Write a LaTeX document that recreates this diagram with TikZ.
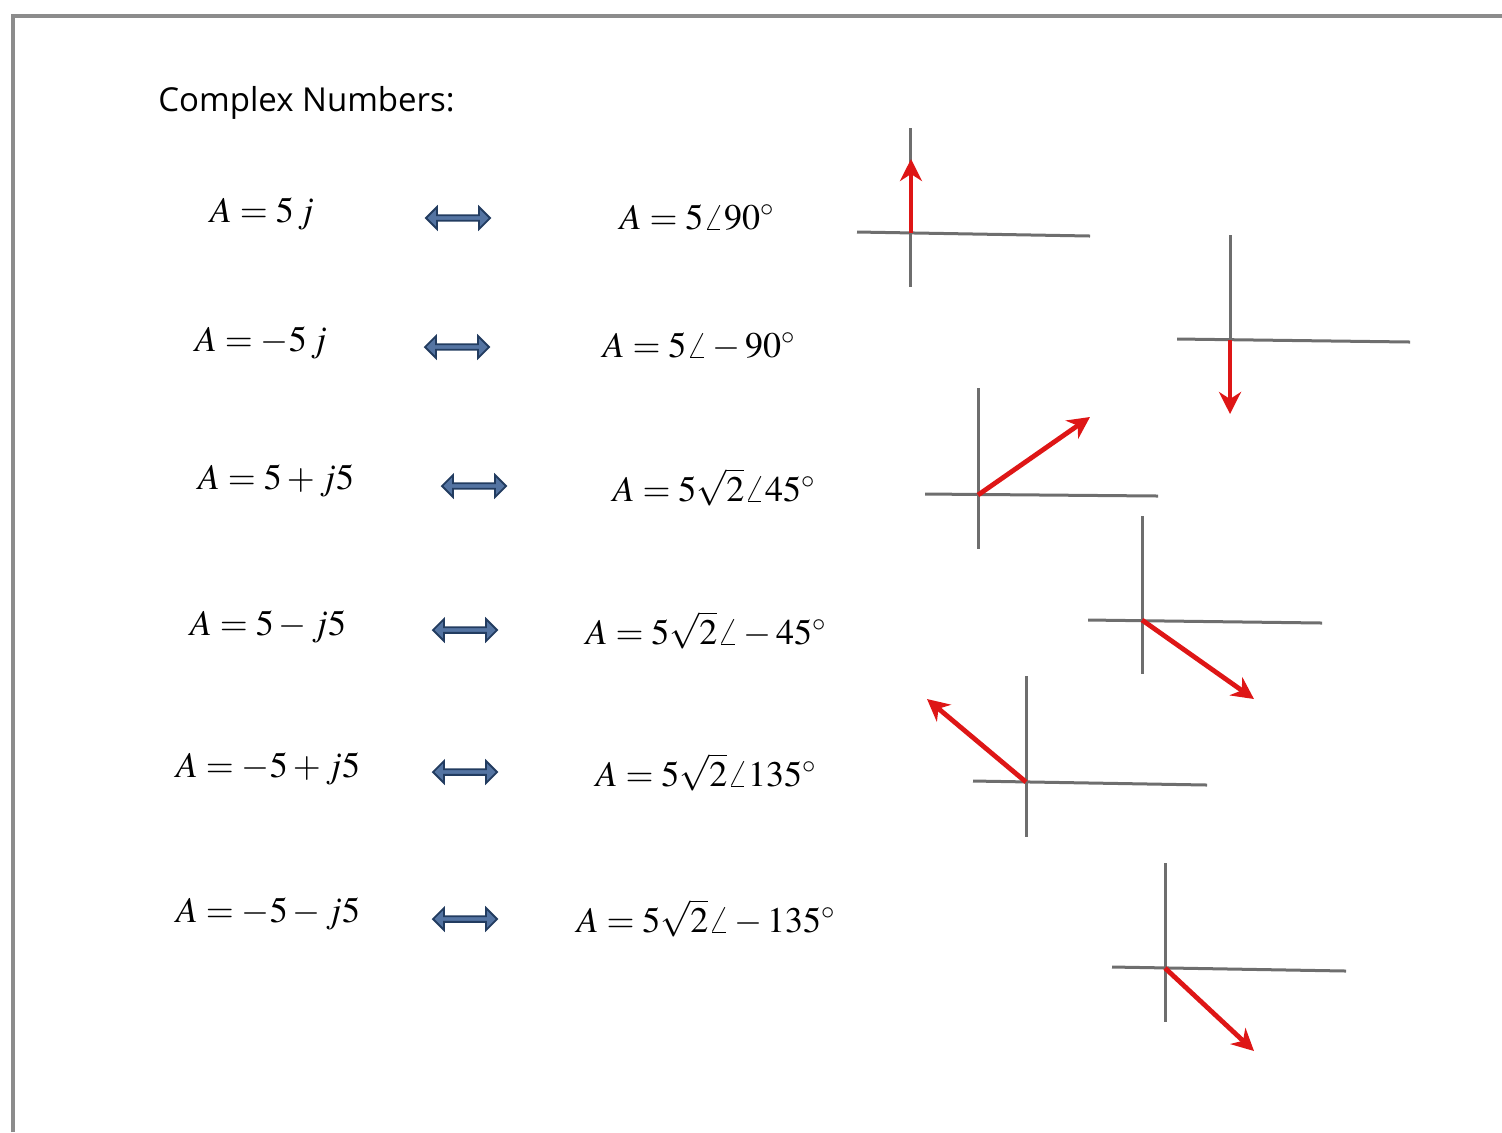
\documentclass[tikz,border=0pt]{standalone}
\usepackage{mathptmx}
\usepackage[no-math]{fontspec}
\setmainfont{Liberation Serif}
\newfontfamily\uifont{Open Sans}
\usetikzlibrary{shapes.arrows,arrows.meta}
\definecolor{framegray}{RGB}{140,140,140}
\definecolor{axisgray}{RGB}{110,110,110}
\definecolor{phasorred}{RGB}{222,22,22}
\definecolor{dafill}{RGB}{84,116,162}
\definecolor{dadraw}{RGB}{34,60,96}
\newcommand\tightmath[1]{$\medmuskip=2.5mu\thickmuskip=4mu #1$}
\begin{document}
\begin{tikzpicture}[x=0.5pt,y=-0.5pt,
  frame/.style={draw=framegray,line width=1.6pt},
  title/.style={font=\uifont\fontsize{16.5}{20}\selectfont,anchor=west,inner sep=0pt},
  formula/.style={font=\fontsize{18}{20}\selectfont,inner sep=0pt},
  dblarrow/.style={shape=double arrow,draw=dadraw,fill=dafill,line width=0.9pt,
    minimum height=32pt,minimum width=11pt,double arrow head extend=1.3pt,inner sep=0pt},
  axis/.style={draw=axisgray,line width=1.5pt},
  phasor/.style={draw=phasorred,line width=2.4pt,-{Stealth[length=11pt,width=11pt,inset=3.5pt]}}]
\useasboundingbox (0,0) rectangle (1502,1132);
% frame
\coordinate (fb) at (13,1132);
\coordinate (fc) at (13,16);
\coordinate (fr) at (1502,16);
\draw[frame] (fb) -- (fc) -- (fr);
% title
\node[title] (title) at (158,103) {Complex Numbers:};
% left formulas
\node[formula] (l1) at (262,214) {\tightmath{A=5\,j}};
\node[formula] (l2) at (261,343) {\tightmath{A=-5\,j}};
\node[formula] (l3) at (276,481) {\tightmath{A=5+j5}};
\node[formula] (l4) at (268,627) {\tightmath{A=5-j5}};
\node[formula] (l5) at (268,769) {\tightmath{A=-5+j5}};
\node[formula] (l6) at (268,914) {\tightmath{A=-5-j5}};
% double arrows
\node[dblarrow] (d1) at (458,218) {};
\node[dblarrow] (d2) at (457,347) {};
\node[dblarrow] (d3) at (474,486) {};
\node[dblarrow] (d4) at (465,630) {};
\node[dblarrow] (d5) at (465,772) {};
\node[dblarrow] (d6) at (465,919) {};
% right formulas
\node[formula] (r1) at (697,218) {$A=5\angle 90^\circ$};
\node[formula] (r2) at (699,347) {$A=5\angle-90^\circ$};
\node[formula] (r3) at (714,487) {$A=5\sqrt{2}\angle 45^\circ$};
\node[formula] (r4) at (706,630) {$A=5\sqrt{2}\angle-45^\circ$};
\node[formula] (r5) at (706,772) {$A=5\sqrt{2}\angle 135^\circ$};
\node[formula] (r6) at (706,918) {$A=5\sqrt{2}\angle-135^\circ$};
% phasor 1
\coordinate (h1a) at (857,232); \coordinate (h1b) at (1090,236);
\coordinate (v1a) at (910,128); \coordinate (v1b) at (910,287);
\coordinate (o1) at (911,233); \coordinate (t1) at (911,159);
\draw[axis] (h1a) -- (h1b); \draw[axis] (v1a) -- (v1b);
\draw[phasor] (o1) -- (t1);
% phasor 2
\coordinate (h2a) at (1177,339); \coordinate (h2b) at (1410,342);
\coordinate (v2a) at (1230,235); \coordinate (v2b) at (1230,341);
\coordinate (o2) at (1230,340); \coordinate (t2) at (1230,414);
\draw[axis] (h2a) -- (h2b); \draw[axis] (v2a) -- (v2b);
\draw[phasor] (o2) -- (t2);
% phasor 3
\coordinate (h3a) at (925,494); \coordinate (h3b) at (1158,496);
\coordinate (v3a) at (978,388); \coordinate (v3b) at (978,549);
\coordinate (o3) at (978,495); \coordinate (t3) at (1090,417);
\draw[axis] (h3a) -- (h3b); \draw[axis] (v3a) -- (v3b);
\draw[phasor] (o3) -- (t3);
% phasor 4
\coordinate (h4a) at (1088,620); \coordinate (h4b) at (1322,623);
\coordinate (v4a) at (1142,516); \coordinate (v4b) at (1142,674);
\coordinate (o4) at (1142,620); \coordinate (t4) at (1254,699);
\draw[axis] (h4a) -- (h4b); \draw[axis] (v4a) -- (v4b);
\draw[phasor] (o4) -- (t4);
% phasor 5
\coordinate (h5a) at (973,781); \coordinate (h5b) at (1207,785);
\coordinate (v5a) at (1026,676); \coordinate (v5b) at (1026,837);
\coordinate (o5) at (1026,782); \coordinate (t5) at (927,699);
\draw[axis] (h5a) -- (h5b); \draw[axis] (v5a) -- (v5b);
\draw[phasor] (o5) -- (t5);
% phasor 6
\coordinate (h6a) at (1112,967); \coordinate (h6b) at (1346,971);
\coordinate (v6a) at (1165,863); \coordinate (v6b) at (1165,1022);
\coordinate (o6) at (1165,968); \coordinate (t6) at (1254,1051);
\draw[axis] (h6a) -- (h6b); \draw[axis] (v6a) -- (v6b);
\draw[phasor] (o6) -- (t6);
\end{tikzpicture}
\end{document}
